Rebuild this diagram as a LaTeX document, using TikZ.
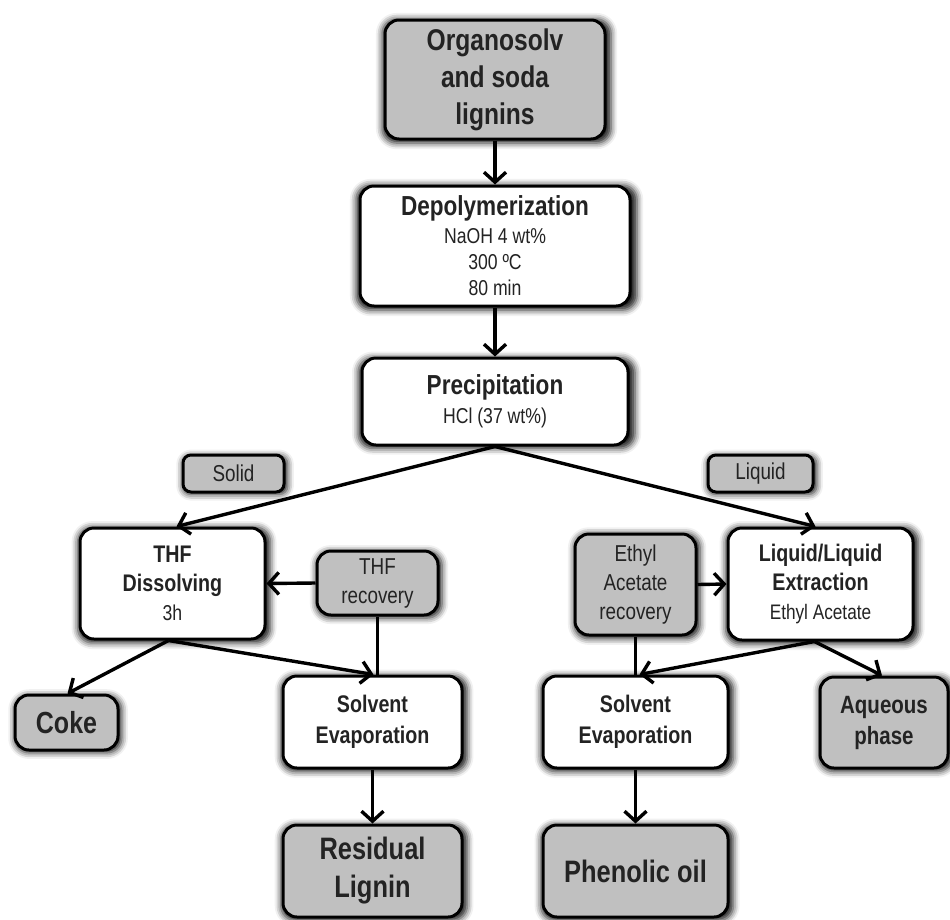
\documentclass[tikz,border=0pt]{standalone}
\usepackage{fontspec}
\setmainfont{Liberation Sans}[FakeStretch=0.82]
\usetikzlibrary{arrows.meta,shadows.blur}
\definecolor{boxgray}{RGB}{192,192,192}
\definecolor{txtgray}{RGB}{35,35,35}
\tikzset{
  box/.style={draw=black, line width=3pt, rounded corners=14pt, fill=white,
    align=center, inner sep=2pt, text=txtgray,
    blur shadow={shadow xshift=1.5pt, shadow yshift=-1.5pt, shadow scale=1.04, shadow blur radius=6pt, shadow opacity=90, shadow blur extra rounding=4pt}},
  gbox/.style={box, fill=boxgray},
  arr/.style={line width=3.4pt, -{Straight Barb[length=10pt,width=22pt]}},
  lin/.style={line width=3.4pt},
}
\begin{document}
\begin{tikzpicture}[x=1pt,y=-1pt]
\useasboundingbox (0,0) rectangle (950,919);
% nodes
\node[gbox, minimum width=220pt, minimum height=119pt, font=\fontsize{30}{37}\selectfont\bfseries] (org) at (495,79.5) {Organosolv\\and soda\\lignins};
\node[box, minimum width=270pt, minimum height=120pt, font=\fontsize{21.5}{26}\selectfont] (dep) at (495,246)
  {{\fontsize{27.5}{26}\selectfont\bfseries Depolymerization}\\[2pt]
   NaOH 4 wt\%\\ 300 ºC\\ 80 min};
\node[box, minimum width=266pt, minimum height=87pt, font=\fontsize{21.5}{27}\selectfont] (pre) at (495,401.5)
  {{\fontsize{27.5}{26}\selectfont\bfseries Precipitation}\\[2pt]
   HCl (37 wt\%)};
\node[gbox, rounded corners=8pt, minimum width=101pt, minimum height=37pt, font=\fontsize{23}{24}\selectfont] (solid) at (233.5,473.5) {Solid};
\node[gbox, rounded corners=8pt, minimum width=105pt, minimum height=37pt, font=\fontsize{23}{24}\selectfont] (liquid) at (760.5,473.5) {Liquid};
\node[box, minimum width=185pt, minimum height=111pt, font=\fontsize{21.5}{29}\selectfont] (thf) at (172.5,583.5)
  {{\fontsize{24}{29}\selectfont\bfseries THF}\\ {\fontsize{24}{29}\selectfont\bfseries Dissolving}\\ 3h};
\node[gbox, minimum width=121pt, minimum height=64pt, font=\fontsize{23}{29}\selectfont] (thfr) at (377.5,583) {THF\\recovery};
\node[gbox, minimum width=121pt, minimum height=101pt, font=\fontsize{23}{29}\selectfont] (ear) at (635.5,584.5) {Ethyl\\Acetate\\recovery};
\node[box, minimum width=185pt, minimum height=112pt, font=\fontsize{21}{29}\selectfont] (lle) at (820.5,584)
  {{\fontsize{24}{29}\selectfont\bfseries Liquid/Liquid}\\ {\fontsize{24}{29}\selectfont\bfseries Extraction}\\ Ethyl Acetate};
\node[gbox, minimum width=103pt, minimum height=55pt, font=\fontsize{30.5}{30}\selectfont\bfseries] (coke) at (66.5,722.5) {Coke};
\node[box, minimum width=179pt, minimum height=92pt, font=\fontsize{24}{31}\selectfont\bfseries] (se1) at (372.5,722) {Solvent\\Evaporation};
\node[box, minimum width=185pt, minimum height=92pt, font=\fontsize{24}{31}\selectfont\bfseries] (se2) at (635.5,722) {Solvent\\Evaporation};
\node[gbox, minimum width=128pt, minimum height=91pt, font=\fontsize{25}{31}\selectfont\bfseries] (aq) at (884,722.5) {Aqueous\\phase};
\node[gbox, minimum width=179pt, minimum height=92pt, font=\fontsize{31}{38}\selectfont\bfseries] (res) at (372.5,871) {Residual\\Lignin};
\node[gbox, minimum width=185pt, minimum height=92pt, font=\fontsize{31}{38}\selectfont\bfseries] (phe) at (635.5,871) {Phenolic oil};
% connectors
\draw[arr] (org.south) -- (dep.north);
\draw[arr] (dep.south) -- (pre.north);
\draw[arr] (pre.south) -- ([xshift=4pt]thf.north);
\draw[arr] (pre.south) -- ([xshift=-5pt]lle.north);
\draw[arr] (thfr.west) -- (thf.east);
\draw[lin] (thfr.south) -- (thfr.south |- se1.north);
\draw[arr] ([xshift=-4pt]thf.south) -- ([xshift=1pt]se1.north);
\draw[arr] ([xshift=-4pt]thf.south) -- ([xshift=1pt]coke.north);
\draw[arr] (ear.east) -- (lle.west);
\draw[lin] (ear.south) -- (ear.south |- se2.north);
\draw[arr] ([xshift=-6pt]lle.south) -- ([xshift=4pt]se2.north);
\draw[arr] ([xshift=-6pt]lle.south) -- ([xshift=-2pt]aq.north);
\draw[arr] (se1.south) -- (res.north);
\draw[arr] (se2.south) -- (phe.north);
\end{tikzpicture}
\end{document}
